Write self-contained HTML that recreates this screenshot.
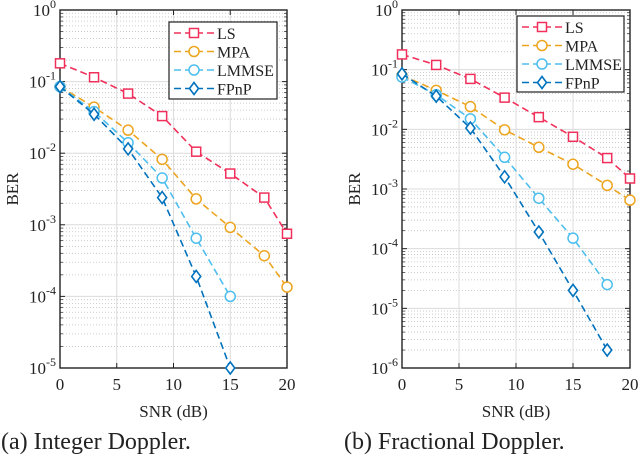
<!DOCTYPE html>
<html><head><meta charset="utf-8"><style>
html,body{margin:0;padding:0;background:#fff;width:640px;height:458px;overflow:hidden}
text{font-family:"Liberation Serif","Times New Roman",serif;fill:#222}
</style></head><body>
<svg id="s" width="640" height="458" xmlns="http://www.w3.org/2000/svg"></svg>
<script>
const snr=[0,3,6,9,12,15,18,20];
const xTicks=[0,5,10,15,20];
const seriesNames=["LS","MPA","LMMSE","FPnP"];
const leftLS=[0.18,0.115,0.068,0.033,0.0105,0.0052,0.0024,0.00075];
const leftMPA=[0.085,0.044,0.021,0.0082,0.0023,0.00092,0.00037,0.000135];
const leftLMMSE=[0.085,0.038,0.014,0.0045,0.00065,0.0001];
const leftFPnP=[0.085,0.035,0.0115,0.0024,0.00019,0.00001];
const rightLS=[0.18,0.12,0.07,0.034,0.016,0.0075,0.0033,0.0015];
const rightMPA=[0.08,0.045,0.024,0.0098,0.005,0.0026,0.00115,0.00065];
const rightLMMSE=[0.075,0.038,0.015,0.0034,0.0007,0.00015,0.000025];
const rightFPnP=[0.085,0.036,0.0105,0.0016,0.00019,0.00002,0.000002];
const leftExps=[0,-1,-2,-3,-4,-5];
const rightExps=[0,-1,-2,-3,-4,-5,-6];

const NS="http://www.w3.org/2000/svg";
const svg=document.getElementById('s');
const colors=["#f0305a","#eda520","#4dbeee","#0072bd"];
const markers=["square","circle","circle","diamond"];
const FF='"Liberation Serif","Times New Roman",serif';
function el(tag,attrs,parent){const e=document.createElementNS(NS,tag);for(const k in attrs)e.setAttribute(k,attrs[k]);if(tag==='text')e.setAttribute('font-family',FF);(parent||svg).appendChild(e);return e;}

function marker(g,type,x,y,c){
  let m;
  if(type==="square")m=el('rect',{x:x-4.5,y:y-4.5,width:9,height:9,fill:'#fff',stroke:c,'stroke-width':1.5},g);
  else if(type==="circle")m=el('circle',{cx:x,cy:y,r:5,fill:'#fff',stroke:c,'stroke-width':1.5},g);
  else m=el('polygon',{points:`${x},${y-6} ${x+4.5},${y} ${x},${y+6} ${x-4.5},${y}`,fill:'#fff',stroke:c,'stroke-width':1.6},g);
  
  
}

function panel(name,L,R,T,B,exps,series,leg,caption){
  const g=el('g',{});
  
  
  const top=exps[0],bot=exps[exps.length-1];
  const sx=v=>L+(v-0)/(20-0)*(R-L);
  const sy=v=>T+(top-Math.log10(v))/(top-bot)*(B-T);
  for(let e=bot;e<top;e++)for(let k=2;k<=9;k++){
    const y=sy(k*Math.pow(10,e));
    el('line',{x1:L,x2:R,y1:y,y2:y,stroke:'#c0c0c0','stroke-width':0.8,'stroke-dasharray':'1 2'},g);
    el('line',{x1:L,x2:L+3,y1:y,y2:y,stroke:'#222','stroke-width':0.7},g);
    el('line',{x1:R,x2:R-3,y1:y,y2:y,stroke:'#222','stroke-width':0.7},g);
  }
  exps.forEach(e=>{const y=sy(Math.pow(10,e));
    el('line',{x1:L,x2:R,y1:y,y2:y,stroke:'#dcdcdc','stroke-width':1},g);
    el('line',{x1:L,x2:L+5,y1:y,y2:y,stroke:'#222','stroke-width':1},g);
    el('line',{x1:R,x2:R-5,y1:y,y2:y,stroke:'#222','stroke-width':1},g);
    const t=el('text',{x:L-4,y:y+6,'text-anchor':'end','font-size':17},g);
    
    
    t.innerHTML=`10<tspan dy="-8" font-size="12">${e}</tspan>`;
  });
  xTicks.forEach(v=>{const x=sx(v);
    el('line',{x1:x,x2:x,y1:T,y2:B,stroke:'#dcdcdc','stroke-width':1},g);
    el('line',{x1:x,x2:x,y1:B,y2:B-5,stroke:'#222'},g);
    el('line',{x1:x,x2:x,y1:T,y2:T+5,stroke:'#222'},g);
    const t=el('text',{x:x,y:B+22,'text-anchor':'middle','font-size':17},g);
    
    
    t.textContent=v;
  });
  const fr=el('rect',{x:L,y:T,width:R-L,height:B-T,fill:'none',stroke:'#222','stroke-width':1.4},g);
  
  
  series.forEach((d,i)=>{
    const pts=d.map((v,j)=>sx(snr[j])+','+sy(v)).join(' ');
    const pl=el('polyline',{points:pts,fill:'none',stroke:colors[i],'stroke-width':1.6,'stroke-dasharray':'7 4'},g);
    
    
    d.forEach((v,j)=>marker(g,markers[i],sx(snr[j]),sy(v),colors[i]));
  });
  const lg=el('g',{},g);
  
  
  el('rect',{x:leg[0],y:leg[1],width:leg[2],height:leg[3],fill:'#fff',stroke:'#222','stroke-width':1.2},lg);
  seriesNames.forEach((n,i)=>{
    const y=leg[1]+11+i*18.5;
    el('line',{x1:leg[0]+5,x2:leg[0]+45,y1:y,y2:y,stroke:colors[i],'stroke-width':1.6,'stroke-dasharray':'7 4'},lg);
    marker(lg,markers[i],leg[0]+25,y,colors[i]);
    const t=el('text',{x:leg[0]+48,y:y+6,'font-size':16},lg);
    
    
    t.textContent=n;
  });
  const xl=el('text',{x:(L+R)/2,y:B+49,'text-anchor':'middle','font-size':17},g);
  
  
  xl.textContent='SNR (dB)';
  const yl=el('text',{x:0,y:0,'text-anchor':'middle','font-size':17,transform:`translate(${L-42},${(T+B)/2}) rotate(-90)`},g);
  
  
  yl.textContent='BER';
  const cp=el('text',{x:caption[1],y:449,'font-size':24},g);
  
  
  cp.textContent=caption[0];
}
panel('chart-integer-doppler',60,287,10,368,leftExps,[leftLS,leftMPA,leftLMMSE,leftFPnP],[169,22,108,77],['(a) Integer Doppler.',1]);
panel('chart-fractional-doppler',402,630,10,368,rightExps,[rightLS,rightMPA,rightLMMSE,rightFPnP],[517,16,107,76],['(b) Fractional Doppler.',344]);
</script>
</body></html>
